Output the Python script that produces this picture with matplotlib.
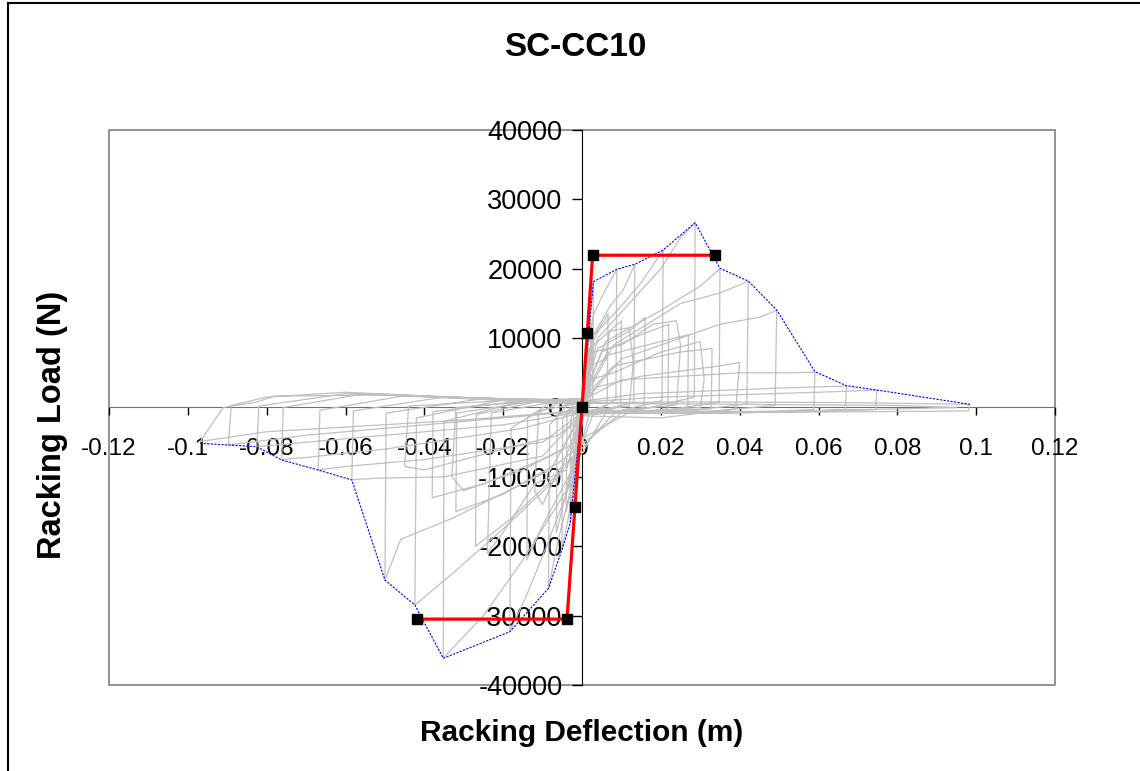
import matplotlib
matplotlib.use("Agg")
import matplotlib.pyplot as plt
from matplotlib.patches import Rectangle
from matplotlib.lines import Line2D

plt.rcParams['font.family'] = ['Liberation Sans', 'DejaVu Sans']

# cyclic test record, racking deflection (m) vs racking load (N)
gray_x_early = [0.0, 0.0008, 0.0012, 0.0010, 0.0, -0.0008, -0.0012, -0.0010, 0.0,
                0.0010, 0.0016, 0.0014, 0.0, -0.0010, -0.0016, -0.0014, 0.0,
                0.0012, 0.0020, 0.0029, 0.0027, 0.0010, 0.0, -0.0012, -0.0022, -0.0030, -0.0028, -0.0010, 0.0,
                0.0012, 0.0022, 0.0021, 0.0005, -0.0010, -0.0022, -0.0021, 0.0,
                0.0015, 0.0030, 0.0055, 0.0088, 0.0086, 0.0040, 0.0, -0.0015, -0.0035, -0.0051, -0.0049, -0.0020, 0.0,
                0.0020, 0.0050, 0.0066, 0.0064, 0.0020, -0.0015, -0.0040, -0.0038, 0.0,
                0.0025, 0.0070, 0.0105, 0.0134, 0.0131, 0.0060, 0.0, -0.0020, -0.0060, -0.0085, -0.0082, -0.0030, 0.0,
                0.0030, 0.0080, 0.0100, 0.0098, 0.0030, -0.0025, -0.0065, -0.0063, 0.0]
gray_y_early = [0, 4000, 6500, 0, -600, -4500, -7000, -500, 400,
                6000, 9000, 500, -500, -6000, -9500, -600, 500,
                8000, 13000, 18100, 1000, -300, -800, -8000, -13000, -16700, -1500, 400, 800,
                7000, 12500, 500, -500, -6500, -12000, -800, 600,
                9000, 13500, 16500, 19900, 1200, -400, -900, -9000, -16000, -20500, -1500, 600, 900,
                8500, 12000, 13500, 400, -600, -8000, -15000, -900, 700,
                10000, 14500, 17000, 20600, 800, -500, -1000, -10000, -19000, -26000, -2500, 800, 1000,
                9000, 11500, 12500, 300, -700, -9000, -18000, -1200, 600]

gray_x_steps = [0.0020, 0.0060, 0.0070, 0.0120, 0.0130, 0.0120, 0.0040, 0.0, -0.0020, -0.0060, -0.0100, -0.0120, -0.0110, -0.0040, 0.0,
                0.0030, 0.0100, 0.0180, 0.0240, 0.0250, 0.0240, 0.0100, 0.0, -0.0040, -0.0120, -0.0200, -0.0240, -0.0230, -0.0080, 0.0,
                0.0020, 0.0080, 0.0200, 0.0300, 0.0310, 0.0300, 0.0150, 0.0, -0.0050, -0.0150, -0.0300, -0.0330, -0.0320, -0.0120, 0.0,
                0.0040, 0.0150, 0.0350, 0.0400, 0.0390, 0.0200, 0.0, -0.0060, -0.0200, -0.0400, -0.0450, -0.0440, -0.0200, 0.0]
gray_y_steps = [6000, 7000, 11000, 11500, 6500, 200, -300, -600, -7000, -9000, -14000, -12000, -500, 300, 600,
                8000, 9000, 12000, 12500, 9000, 400, -500, -800, -9000, -11000, -18000, -21000, -800, 700, 900,
                4000, 5000, 8000, 9500, 4000, 0, -600, -700, -6000, -9000, -12000, -10000, 0, 900, 500,
                3000, 4500, 6000, 6500, -200, -1500, -1200, -4000, -6000, -9000, -8500, 200, 1000, 400]

gray_x_mid = [0.0030, 0.0090, 0.0150, 0.0206, 0.0203, 0.0100, 0.0, -0.0030, -0.0090, -0.0140, -0.0183, -0.0180, -0.0080, 0.0,
              0.0040, 0.0120, 0.0160, 0.0158, 0.0060, -0.0030, -0.0100, -0.0140, -0.0138, -0.0050, 0.0,
              0.0040, 0.0120, 0.0200, 0.0250, 0.0287, 0.0285, 0.0150, 0.0, -0.0040, -0.0150, -0.0250, -0.0352, -0.0350, -0.0150, 0.0,
              0.0050, 0.0150, 0.0220, 0.0218, 0.0080, -0.0050, -0.0180, -0.0270, -0.0268, -0.0100, 0.0,
              0.0060, 0.0200, 0.0300, 0.0350, 0.0348, 0.0200, 0.0, -0.0060, -0.0200, -0.0330, -0.0424, -0.0420, -0.0200, 0.0,
              0.0060, 0.0200, 0.0270, 0.0268, 0.0100, -0.0060, -0.0200, -0.0320, -0.0318, -0.0120, 0.0]
gray_y_mid = [10500, 14000, 18000, 22700, 1000, -400, -1000, -11000, -20000, -27000, -32300, -3000, 700, 1200,
              8500, 11000, 13000, 0, -800, -9500, -17000, -22000, -1500, 900, 700,
              10000, 15000, 20000, 24500, 26600, 1500, -300, -1100, -12000, -22000, -30000, -36100, -2000, 900, 1300,
              8000, 10500, 12000, -200, -900, -9000, -16000, -20000, -1000, 1000, 800,
              9500, 14000, 17500, 20000, 800, -500, -1000, -10000, -17500, -24000, -28500, -1500, 1100, 1200,
              7500, 9500, 10500, -300, -800, -8000, -12500, -15000, -800, 900, 700]

gray_x_late = [0.0080, 0.0250, 0.0350, 0.0422, 0.0418, 0.0250, 0.0, -0.0080, -0.0330, -0.0460, -0.0500, -0.0497, -0.0250, 0.0,
               0.0080, 0.0250, 0.0330, 0.0328, 0.0120, -0.0080, -0.0250, -0.0380, -0.0378, -0.0150, 0.0,
               0.0100, 0.0350, 0.0450, 0.0494, 0.0490, 0.0300, 0.0, -0.0100, -0.0350, -0.0520, -0.0584, -0.0580, -0.0350, 0.0,
               0.0100, 0.0400, 0.0530, 0.0591, 0.0588, 0.0350, 0.0, -0.0100, -0.0400, -0.0600, -0.0669, -0.0665, -0.0450, 0.0,
               0.0150, 0.0500, 0.0671, 0.0668, 0.0400, 0.0, -0.0150, -0.0500, -0.0700, -0.0762, -0.0758, -0.0550, 0.0,
               0.0200, 0.0600, 0.0748, 0.0745, 0.0450, 0.0, -0.0200, -0.0600, -0.0825, -0.0820, -0.0600, 0.0,
               0.0300, 0.0700, 0.0984, 0.0980, 0.0500, 0.0, -0.0300, -0.0700, -0.0897, -0.0890, -0.0800, -0.0600, 0.0,
               0.0300, 0.0800, 0.0950, 0.0500, 0.0, -0.0300, -0.0800, -0.0969, -0.0910, -0.0825, -0.0780, -0.0500, 0.0]
gray_y_late = [9000, 15000, 16500, 18200, 500, -600, -900, -9000, -16000, -19000, -24900, -800, 1300, 1100,
               6000, 8000, 8500, -200, -700, -7000, -11000, -13000, -600, 1000, 600,
               7000, 12000, 13000, 14000, 300, -700, -900, -7000, -10000, -10200, -10400, -500, 1500, 1000,
               4000, 5000, 5000, 5100, -300, -800, -800, -5000, -7500, -8500, -9000, -400, 1700, 900,
               2000, 2800, 3100, -300, -800, -700, -3000, -6000, -7200, -7500, 0, 2000, 800,
               1500, 2200, 2500, -300, -700, -600, -2500, -4500, -5650, 200, 2000, 700,
               800, 700, 460, -500, -700, -500, -2000, -4000, -5400, 300, 1500, 2200, 600,
               500, 300, 0, -600, -400, -1800, -3500, -4900, 0, 800, 1650, 1800, 500]

# envelope of the hysteresis peaks
env_x = [-0.0969, -0.0897, -0.0825, -0.0762, -0.0669, -0.0584, -0.0500, -0.0424, -0.0352,
         -0.0183, -0.0085, -0.0051, -0.0030, 0.0, 0.0029, 0.0088, 0.0134, 0.0206, 0.0287,
         0.0350, 0.0422, 0.0494, 0.0591, 0.0671, 0.0748, 0.0984]
env_y = [-5160, -5400, -5650, -7570, -9010, -10450, -24870, -28470, -36150,
         -32320, -26060, -20540, -16690, 0, 18130, 19920, 20640, 22700, 26640,
         20060, 18230, 14050, 5160, 3140, 2520, 460]

# equivalent bilinear curve
bilin_x = [-0.0419, -0.0038, -0.0018, 0.0, 0.00135, 0.0027, 0.0338]
bilin_y = [-30500, -30500, -14400, 0, 10800, 21950, 21950]

x_ticks = [-0.12, -0.1, -0.08, -0.06, -0.04, -0.02, 0, 0.02, 0.04, 0.06, 0.08, 0.1, 0.12]
x_tick_labels = ['-0.12', '-0.1', '-0.08', '-0.06', '-0.04', '-0.02', '0',
                 '0.02', '0.04', '0.06', '0.08', '0.1', '0.12']
y_ticks = [-40000, -30000, -20000, -10000, 0, 10000, 20000, 30000, 40000]
y_tick_labels = ['-40000', '-30000', '-20000', '-10000', '0', '10000', '20000', '30000', '40000']

fig = plt.figure(figsize=(11.4, 7.71), dpi=100)
ax = fig.add_axes([109 / 1140, 1 - 685 / 771, 946 / 1140, 555 / 771])

gray_x = gray_x_early + gray_x_steps + gray_x_mid + gray_x_late
gray_y = gray_y_early + gray_y_steps + gray_y_mid + gray_y_late
ax.plot(gray_x, gray_y, color='#c0c0c0', lw=0.9, zorder=3)
ax.plot(env_x, env_y, color='#0000ff', lw=0.8, ls=(0, (2, 1.2)), zorder=4)
ax.plot(bilin_x, bilin_y, color='#ff0000', lw=2.3, zorder=5,
        marker='s', ms=7.5, mfc='black', mec='black')

ax.set_xlim(-0.12, 0.12)
ax.set_ylim(-40000, 40000)

# axes crossing at the origin
ax.spines['left'].set_position(('data', 0))
ax.spines['bottom'].set_position(('data', 0))
ax.spines['left'].set_color('black')
ax.spines['bottom'].set_color('#707070')
ax.spines['top'].set_visible(False)
ax.spines['right'].set_visible(False)
ax.spines['left'].set_zorder(2)
ax.spines['bottom'].set_zorder(2)

ax.set_xticks(x_ticks)
ax.set_xticklabels(x_tick_labels)
ax.set_yticks(y_ticks)
ax.set_yticklabels(y_tick_labels)
ax.tick_params(axis='x', direction='out', length=6, width=1, color='black',
               labelsize=17.5, pad=16)
ax.tick_params(axis='y', direction='out', length=7, width=1, color='black',
               labelsize=19.5, pad=7)

# plot area frame
ax.add_patch(Rectangle((0, 0), 1, 1, transform=ax.transAxes, fill=False,
                       edgecolor='#808080', lw=1.2, clip_on=False, zorder=1))

fig.text(575 / 1140, 1 - 47 / 771, 'SC-CC10', ha='center', va='center',
         fontsize=24, fontweight='bold')
fig.text(582 / 1140, 1 - 733 / 771, 'Racking Deflection (m)', ha='center', va='center',
         fontsize=21.5, fontweight='bold')
fig.text(53 / 1140, 1 - 425 / 771, 'Racking Load (N)', ha='center', va='center',
         rotation=90, fontsize=23.5, fontweight='bold')

# chart border
fig.add_artist(Line2D([7.5 / 1140, 7.5 / 1140], [0, 1 - 2.5 / 771], color='black', lw=1.5,
                      transform=fig.transFigure))
fig.add_artist(Line2D([7.5 / 1140, 1], [1 - 2.5 / 771, 1 - 2.5 / 771], color='black', lw=1.5,
                      transform=fig.transFigure))

fig.savefig('out.png', dpi=100)
